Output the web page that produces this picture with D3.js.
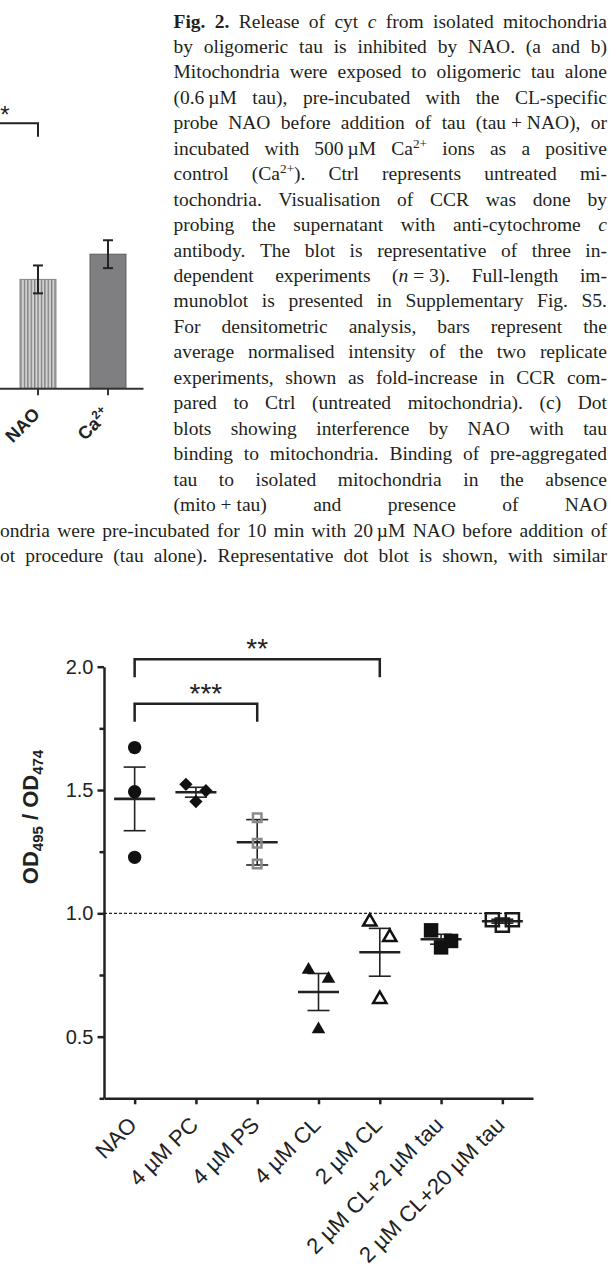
<!DOCTYPE html>
<html>
<head>
<meta charset="utf-8">
<script src="https://cdn.jsdelivr.net/npm/d3@7"></script>
<style>
html, body { margin: 0; padding: 0; background: #fff; }
svg { display: block; }
</style>
</head>
<body>
<div id="fig"></div>
<script>
// Caption text (markup per word: **bold**, _italic_, ^superscript^)
const captionLines = [
    "**Fig.** **2.** Release of cyt _c_ from isolated mitochondria",
    "by oligomeric tau is inhibited by NAO. (a and b)",
    "Mitochondria were exposed to oligomeric tau alone",
    "(0.6\u2009µM tau), pre-incubated with the CL-specific",
    "probe NAO before addition of tau (tau\u00a0+\u00a0NAO), or",
    "incubated with 500\u2009µM Ca^2+^ ions as a positive",
    "control (Ca^2+^). Ctrl represents untreated mi-",
    "tochondria. Visualisation of CCR was done by",
    "probing the supernatant with anti-cytochrome _c_",
    "antibody. The blot is representative of three in-",
    "dependent experiments (_n_\u00a0=\u00a03). Full-length im-",
    "munoblot is presented in Supplementary Fig. S5.",
    "For densitometric analysis, bars represent the",
    "average normalised intensity of the two replicate",
    "experiments, shown as fold-increase in CCR com-",
    "pared to Ctrl (untreated mitochondria). (c) Dot",
    "blots showing interference by NAO with tau",
    "binding to mitochondria. Binding of pre-aggregated",
    "tau to isolated mitochondria in the absence",
    "(mito\u00a0+\u00a0tau) and presence of NAO"
];
const captionWideLines = [
    "ondria were pre-incubated for 10 min with 20\u2009µM NAO before addition of",
    "ot procedure (tau alone). Representative dot blot is shown, with similar"
];

// Bar chart (panel b, cropped at the left edge)
const barCategories = ["Ctrl", "tau", "NAO", "Ca^2+^"];
const barValues = [null, null, 2.42, 2.98];   // Ctrl and tau bars fall outside the crop
const barErrors = [null, null, 0.31, 0.31];
const barSig = { from: "tau", to: "NAO", label: "*", level: 5.89 };

// Dot plot (OD495 / OD474)
const groups = ["NAO", "4 µM PC", "4 µM PS", "4 µM CL", "2 µM CL", "2 µM CL+2 µM tau", "2 µM CL+20 µM tau"];
const replicates = [
    [1.672, 1.493, 1.227],
    [1.523, 1.497, 1.453],
    [1.388, 1.284, 1.200],
    [0.771, 0.734, 0.530],
    [0.966, 0.903, 0.652],
    [0.931, 0.888, 0.862],
    [0.974, 0.974, 0.952]
];
const groupMeans = [1.464, 1.491, 1.288, 0.681, 0.842, 0.895, 0.968];
const groupErrors = [0.129, 0.020, 0.092, 0.075, 0.097, 0.020, 0.008];
const yTicks = [0.5, 1.0, 1.5, 2.0];
const yMinorTicks = [0.25, 0.75, 1.25, 1.75];
const sigPairs = [["NAO", "2 µM CL"], ["NAO", "4 µM PS"]];
const sigLabels = ["**", "***"];
const sigLevels = [2.03, 1.85];
const refLine = 1.0;

const W = 610, H = 1269;
const serif = "'Liberation Serif', 'Times New Roman', serif";
const sans = "'Liberation Sans', Arial, Helvetica, sans-serif";
const ink = "#222";

const svg = d3.select("#fig").append("svg")
    .attr("width", W)
    .attr("height", H);

// ---------- caption ----------
function addWord(g, word, y, size) {
    const t = g.append("text")
        .attr("y", y)
        .attr("font-family", serif)
        .attr("font-size", size)
        .attr("fill", "#231f20");
    const parts = word.match(/\*\*[^*]+\*\*|_[^_]+_|\^[^^]+\^|[^*_^]+/g);
    let raised = false;
    parts.forEach(p => {
        const s = t.append("tspan");
        if (p.startsWith("**")) s.attr("font-weight", "bold").text(p.slice(2, -2));
        else if (p.startsWith("_")) s.attr("font-style", "italic").text(p.slice(1, -1));
        else if (p.startsWith("^")) {
            s.attr("font-size", size * 0.68).attr("dy", -7).text(p.slice(1, -1));
            raised = true;
            return;
        } else s.text(p);
        if (raised) { s.attr("dy", 7); raised = false; }
    });
    return t;
}

function justifyLine(str, left, right, y) {
    const g = svg.append("g");
    const words = str.split(" ");
    const nodes = words.map(w => addWord(g, w, y, 19.5));
    const widths = nodes.map(n => n.node().getComputedTextLength());
    const gap = (right - left - d3.sum(widths)) / (words.length - 1);
    let x = left;
    nodes.forEach((n, i) => {
        n.attr("x", x);
        x += widths[i] + gap;
    });
}

const lineH = 25.45, firstBase = 27.5;
captionLines.forEach((l, i) => justifyLine(l, 173.5, 607, firstBase + i * lineH));
captionWideLines.forEach((l, i) => justifyLine(l, 0, 607, firstBase + (captionLines.length + i) * lineH));

// ---------- bar chart (top left) ----------
const bx = d3.scaleBand()
    .domain(barCategories)
    .range([-137, 143])
    .paddingInner(0.486)
    .paddingOuter(0.243);
const by = d3.scaleLinear().domain([0, 6]).range([388.3, 118.3]);

const defs = svg.append("defs");
const pat = defs.append("pattern")
    .attr("id", "stripes")
    .attr("patternUnits", "userSpaceOnUse")
    .attr("width", 3.4)
    .attr("height", 10);
pat.append("rect").attr("width", 3.4).attr("height", 10).attr("fill", "#d2d2d2");
pat.append("rect").attr("width", 1.3).attr("height", 10).attr("fill", "#7c7c7c");

const barFills = ["#fff", "#fff", "url(#stripes)", "#7f7f81"];
const barStrokes = ["#555", "#555", "#858585", "#5c5c5c"];

const bars = barCategories.map((c, i) => ({ c, v: barValues[i], e: barErrors[i], i }))
    .filter(d => d.v !== null);

const gb = svg.append("g");
gb.selectAll("rect.bar")
    .data(bars)
    .join("rect")
    .attr("class", "bar")
    .attr("x", d => bx(d.c))
    .attr("y", d => by(d.v))
    .attr("width", bx.bandwidth())
    .attr("height", d => by(0) - by(d.v))
    .attr("fill", d => barFills[d.i])
    .attr("stroke", d => barStrokes[d.i])
    .attr("stroke-width", 1);

const be = gb.selectAll("g.err")
    .data(bars)
    .join("g")
    .attr("class", "err")
    .attr("stroke", ink)
    .attr("stroke-width", 2);
be.append("line")
    .attr("x1", d => bx(d.c) + bx.bandwidth() / 2)
    .attr("x2", d => bx(d.c) + bx.bandwidth() / 2)
    .attr("y1", d => by(d.v + d.e))
    .attr("y2", d => by(d.v - d.e));
[1, -1].forEach(s => {
    be.append("line")
        .attr("x1", d => bx(d.c) + bx.bandwidth() / 2 - 5)
        .attr("x2", d => bx(d.c) + bx.bandwidth() / 2 + 5)
        .attr("y1", d => by(d.v + s * d.e))
        .attr("y2", d => by(d.v + s * d.e));
});

const bxAxis = gb.append("g")
    .attr("transform", `translate(0,${by(0)})`)
    .call(d3.axisBottom(bx).tickSize(7).tickSizeOuter(0).tickFormat(""));
bxAxis.selectAll("path, line").attr("stroke", "#333").attr("stroke-width", 2);
// labels only for the bars that are inside the crop
bxAxis.selectAll(".tick")
    .filter(d => barValues[barCategories.indexOf(d)] !== null)
    .each(function (d) {
        const t = d3.select(this).append("text")
            .attr("transform", "translate(3,27) rotate(-45)")
            .attr("text-anchor", "end")
            .attr("font-family", sans)
            .attr("font-weight", "bold")
            .attr("font-size", 18)
            .attr("fill", ink);
        const m = d.match(/^([^^]*)(?:\^([^^]+)\^)?$/);
        t.append("tspan").text(m[1]);
        if (m[2]) t.append("tspan").attr("font-size", 12).attr("dy", -7).text(m[2]);
    });

// significance bracket
{
    const x1 = bx(barSig.from) + bx.bandwidth() / 2;
    const x2 = bx(barSig.to) + bx.bandwidth() / 2;
    const yl = by(barSig.level);
    gb.append("path")
        .attr("d", `M${x1},${yl + 13.4}V${yl}H${x2}V${yl + 13.4}`)
        .attr("fill", "none")
        .attr("stroke", ink)
        .attr("stroke-width", 2);
    gb.append("text")
        .attr("x", (x1 + x2) / 2 + 2)
        .attr("y", yl)
        .attr("text-anchor", "middle")
        .attr("font-family", sans)
        .attr("font-size", 24)
        .attr("fill", ink)
        .text(barSig.label);
}

// ---------- dot plot ----------
const x = d3.scalePoint().domain(groups).range([104, 533]).padding(0.5);
const y = d3.scaleLinear().domain([0.25, 2.0]).range([1098.3, 666.7]);
const gp = svg.append("g");

// reference line at 1.0
gp.append("line")
    .attr("x1", x.range()[0])
    .attr("x2", x(groups[groups.length - 1]) + x.step() * 0.29)
    .attr("y1", y(refLine))
    .attr("y2", y(refLine))
    .attr("stroke", ink)
    .attr("stroke-width", 1.3)
    .attr("stroke-dasharray", "3,2");

// mean and SEM
const stats = groups.map((g, i) => ({ g, m: groupMeans[i], e: groupErrors[i] }));
const gs = gp.selectAll("g.stat")
    .data(stats)
    .join("g")
    .attr("class", "stat")
    .attr("stroke", ink);
gs.append("line")
    .attr("x1", d => x(d.g)).attr("x2", d => x(d.g))
    .attr("y1", d => y(d.m + d.e)).attr("y2", d => y(d.m - d.e))
    .attr("stroke-width", 1.6);
[1, -1].forEach(s => {
    gs.append("line")
        .attr("x1", d => x(d.g) - 11).attr("x2", d => x(d.g) + 11)
        .attr("y1", d => y(d.m + s * d.e)).attr("y2", d => y(d.m + s * d.e))
        .attr("stroke-width", 1.6);
});
gs.append("line")
    .attr("x1", d => x(d.g) - 20.5).attr("x2", d => x(d.g) + 20.5)
    .attr("y1", d => y(d.m)).attr("y2", d => y(d.m))
    .attr("stroke-width", 2.6);

// markers: overlapping replicates are spread sideways (scatter layout)
const markerStyles = [
    { type: d3.symbolCircle, size: 140, fill: "#111" },
    { type: d3.symbolSquare, size: 88, rot: 45, fill: "#111" },
    { type: d3.symbolSquare, size: 72, fill: "none", stroke: "#8a8a8a", sw: 2.5 },
    { type: d3.symbolTriangle, size: 80, fill: "#111" },
    { type: d3.symbolTriangle, size: 76, fill: "#fff", stroke: "#111", sw: 2.5 },
    { type: d3.symbolSquare, size: 210, fill: "#111" },
    { type: d3.symbolSquare, size: 172, fill: "none", stroke: "#1a1a1a", sw: 2.5 }
];

const points = [];
groups.forEach((g, gi) => {
    const vals = replicates[gi].map((v, k) => ({ v, k })).sort((a, b) => b.v - a.v);
    const clusters = [];
    vals.forEach(p => {
        const last = clusters[clusters.length - 1];
        if (last && Math.abs(y(last[last.length - 1].v) - y(p.v)) < 16) last.push(p);
        else clusters.push([p]);
    });
    const spread = [[0], [-10, 10], [-10, 10, 0]];
    clusters.forEach(cl => cl.forEach((p, j) => points.push({ g, gi, v: p.v, dx: spread[cl.length - 1][j] })));
});

gp.selectAll("path.pt")
    .data(points)
    .join("path")
    .attr("class", "pt")
    .attr("d", d => d3.symbol(markerStyles[d.gi].type, markerStyles[d.gi].size)())
    .attr("transform", d => `translate(${x(d.g) + d.dx},${y(d.v)}) rotate(${markerStyles[d.gi].rot || 0})`)
    .attr("fill", d => markerStyles[d.gi].fill)
    .attr("stroke", d => markerStyles[d.gi].stroke || "none")
    .attr("stroke-width", d => markerStyles[d.gi].sw || 0);

// axes
const yAxis = gp.append("g")
    .attr("transform", `translate(${x.range()[0]},0)`)
    .call(d3.axisLeft(y).tickValues(yTicks).tickSize(6.5).tickPadding(4).tickSizeOuter(0).tickFormat(d3.format(".1f")));
const yMinor = gp.append("g")
    .attr("transform", `translate(${x.range()[0]},0)`)
    .call(d3.axisLeft(y).tickValues(yMinorTicks).tickSize(4.5).tickSizeOuter(0).tickFormat(""));
yMinor.select(".domain").remove();

const xAxis = gp.append("g")
    .attr("transform", `translate(0,${y.range()[0]})`)
    .call(d3.axisBottom(x).tickSize(6).tickSizeOuter(0));

[yAxis, yMinor, xAxis].forEach(a => {
    a.selectAll("path, line").attr("stroke", ink).attr("stroke-width", 2.5);
});
yAxis.selectAll("text")
    .attr("font-family", sans)
    .attr("font-size", 20)
    .attr("fill", ink);
xAxis.selectAll("text")
    .attr("x", null).attr("y", null).attr("dy", null)
    .attr("transform", "translate(3,28) rotate(-45)")
    .attr("text-anchor", "end")
    .attr("font-family", sans)
    .attr("font-size", 22)
    .attr("fill", ink);

// y title
const yt = gp.append("text")
    .attr("transform", "translate(38,817) rotate(-90)")
    .attr("text-anchor", "middle")
    .attr("font-family", sans)
    .attr("font-weight", "bold")
    .attr("font-size", 22)
    .attr("fill", ink);
yt.append("tspan").text("OD");
yt.append("tspan").attr("font-size", 15).attr("dy", 5).text("495");
yt.append("tspan").attr("dy", -5).text(" / OD");
yt.append("tspan").attr("font-size", 15).attr("dy", 5).text("474");

// significance brackets
sigPairs.forEach((p, i) => {
    const x1 = x(p[0]), x2 = x(p[1]);
    const yl = y(sigLevels[i]);
    gp.append("path")
        .attr("d", `M${x1},${yl + 18}V${yl}H${x2}V${yl + 18}`)
        .attr("fill", "none")
        .attr("stroke", ink)
        .attr("stroke-width", 2.5);
    gp.append("text")
        .attr("x", (x1 + x2) / 2 + (i === 1 ? 10 : 0))
        .attr("y", yl - 1)
        .attr("text-anchor", "middle")
        .attr("font-family", sans)
        .attr("font-size", 28)
        .attr("fill", ink)
        .text(sigLabels[i]);
});
</script>
</body>
</html>
